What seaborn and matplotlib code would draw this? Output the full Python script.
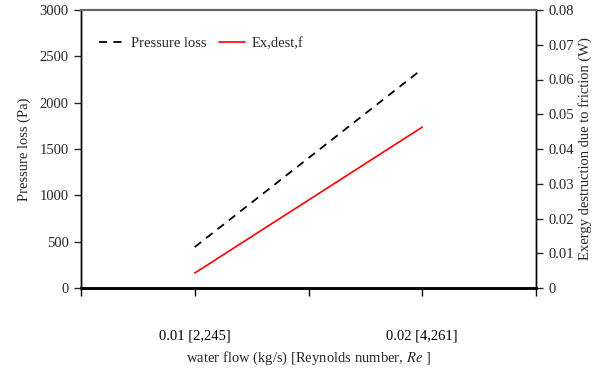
import matplotlib
matplotlib.use("Agg")
import matplotlib.pyplot as plt
import seaborn as sns
import pandas as pd
from matplotlib.lines import Line2D

categories = ["0.01 [2,245]", "0.02 [4,261]"]
pressure_loss = [442, 2363]
exergy_dest = [0.0043, 0.0463]

sns.set_style("white")
plt.rcParams['font.family'] = ['Liberation Serif', 'DejaVu Serif']
plt.rcParams['mathtext.fontset'] = 'stix'

df = pd.DataFrame({"flow": categories, "dp": pressure_loss, "ex": exergy_dest})

fig = plt.figure(figsize=(6.04, 3.76), dpi=100)
ax = fig.add_axes([81/604, 1 - 288/376, (536-81)/604, (288-10)/376])
ax2 = ax.twinx()

sns.lineplot(data=df, x="flow", y="dp", ax=ax, color="black", linestyle=(0, (4.5, 3.5)), linewidth=1.3, sort=False)
sns.lineplot(data=df, x="flow", y="ex", ax=ax2, color="red", linewidth=1.2, sort=False)

ax.set_xlim(-0.5, 1.5)
ax.set_ylim(0, 3000)
ax2.set_ylim(0, 0.08)
ax.set_yticks(range(0, 3001, 500))
ax.set_yticklabels([str(v) for v in range(0, 3001, 500)])
ax2.set_yticks([i/100 for i in range(9)])
ax2.set_yticklabels(["0"] + [f"0.0{i}" for i in range(1, 9)])

ax.set_xticks([-0.5, 0, 0.5, 1, 1.5])
ax.set_xticklabels(["", categories[0], "", categories[1], ""])

fs = 10.5
ax.tick_params(axis='x', direction='out', length=6, width=1, pad=24, labelsize=fs, bottom=True, colors='black')
ax.tick_params(axis='y', direction='out', length=5, width=1, pad=4, labelsize=fs, left=True)
ax2.tick_params(axis='y', direction='out', length=5, width=1, pad=4, labelsize=fs, right=True)

ax.set_xlabel("water flow (kg/s) [Reynolds number, $\\mathit{Re}$ ]", fontsize=fs, labelpad=5)
ax.set_ylabel("Pressure loss (Pa)", fontsize=fs, labelpad=6)
ax2.set_ylabel("Exergy destruction due to friction (W)", fontsize=fs, labelpad=3)

for a in (ax, ax2):
    for s in ["left", "right", "bottom"]:
        a.spines[s].set_color("black")
        a.spines[s].set_linewidth(1.0)
    a.spines["top"].set_color("#666666")
    a.spines["top"].set_linewidth(1.5)
ax.spines["bottom"].set_linewidth(1.8)
ax2.spines["bottom"].set_linewidth(1.8)

handles = [Line2D([], [], color="black", linestyle=(0, (4.5, 3.5)), linewidth=1.3),
           Line2D([], [], color="red", linewidth=1.2)]
ax.legend(handles, ["Pressure loss", "Ex,dest,f"], loc="upper left", bbox_to_anchor=(0.01, 0.95),
          ncol=2, frameon=False, fontsize=fs, handlelength=1.8, columnspacing=0.8, handletextpad=0.45)
if ax2.get_legend():
    ax2.get_legend().remove()

fig.savefig("out.png", dpi=100)
